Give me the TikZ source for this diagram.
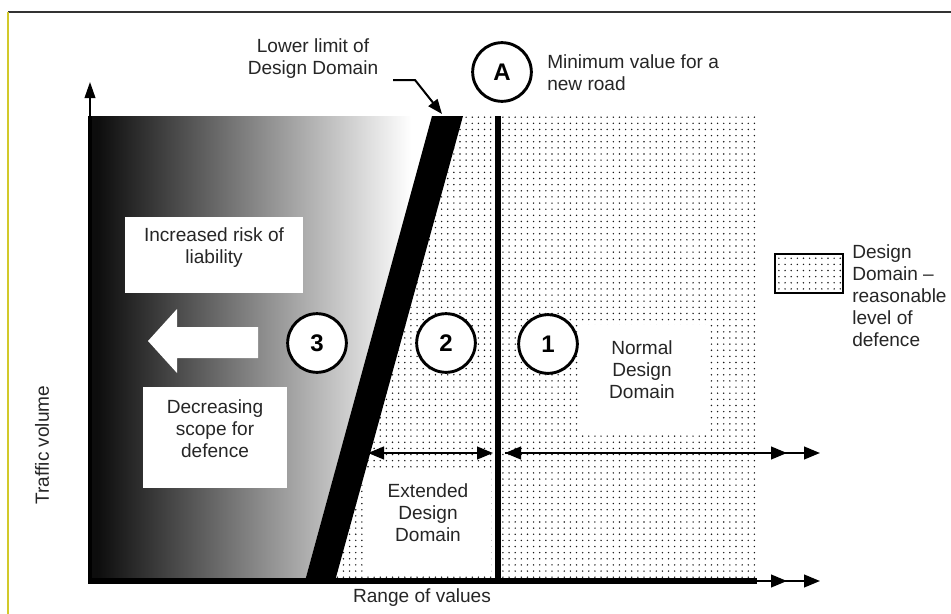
\documentclass[tikz,border=0pt]{standalone}
\usepackage{fontspec}
\setmainfont{Liberation Sans}
\usetikzlibrary{arrows.meta,patterns.meta}
\pgfdeclarehorizontalshading{darkfade}{100bp}{color(0bp)=(black!95); color(26bp)=(black!95); color(72bp)=(white); color(100bp)=(white)}
\begin{document}
\begin{tikzpicture}[x=0.75pt,y=-0.75pt,
  lbl/.style={font=\fontsize{14.3}{16.5}\selectfont, inner sep=0pt, text=black!85},
  numcirc/.style={draw, circle, line width=2.2pt, minimum size=44pt, inner sep=0pt, fill=white,
    font=\fontsize{18}{20}\selectfont\bfseries},
  tip/.tip={Triangle[length=12pt,width=9.5pt]},
  tri/.style={-tip},
  dotfill/.style={pattern={Dots[distance=4.6pt,radius=0.6pt]}, pattern color=black!90},
  whitebox/.style={fill=white}
]
\useasboundingbox (0,0) rectangle (951,614);
\fill[white] (0,0) rectangle (951,614);
% page frame
\draw[black!80, line width=0.8pt] (8,12) -- (951,12);
\draw[yellow!80!black, line width=1.2pt] (8,12) -- (8,614);
% key points
\coordinate (TL) at (90,116);
\coordinate (BL) at (90,581);
\coordinate (BandTL) at (432,116);
\coordinate (BandTR) at (463,116);
\coordinate (BandBR) at (335,581);
\coordinate (BandBL) at (305,581);
\coordinate (DTR) at (755,116);
\coordinate (DBR) at (755,581);
% gradient zone
\shade[shading=darkfade] (TL) -- (BandTL) -- (BandBL) -- (BL) -- cycle;
% design domain (dotted)
\fill[dotfill] (BandTR) -- (DTR) -- (DBR) -- (BandBR) -- cycle;
% lower limit band
\fill[black] (BandTL) -- (BandTR) -- (BandBR) -- (BandBL) -- cycle;
% line A
\draw[line width=4.5pt] (498,116) -- (498,581);
% y axis
\coordinate (ytop) at (90,82);
\draw[line width=3pt] (90,583) -- (TL);
\draw[line width=1.3pt, -{Triangle[length=12pt,width=8pt]}] (TL) -- (ytop);
% x axis
\coordinate (xs) at (757,581);
\coordinate (xa) at (787,581);
\coordinate (xb) at (820,581);
\draw[line width=4pt] (88,581) -- (xs);
\draw[line width=1.6pt, tri] (xs) -- (xb);
\draw[line width=1.6pt, tri] (xs) -- (xa);
% range arrows
\coordinate (e1) at (368,453);
\coordinate (e2) at (493,453);
\coordinate (n1) at (505,453);
\coordinate (n2) at (787,453);
\coordinate (n3) at (820,453);
\draw[line width=1.6pt, tip-tip] (e1) -- (e2);
\draw[line width=1.6pt, tip-tip] (n1) -- (n3);
\draw[line width=1.6pt, tri] (n1) -- (n2);
% white boxes
\fill[whitebox] (125,217) rectangle (303,293);
\fill[whitebox] (143,387) rectangle (287,488);
\fill[whitebox] (367,471) rectangle (491,576);
\fill[whitebox] (578,325) rectangle (707,433);
\node[lbl, align=center] (risk) at (214,248) {Increased risk of\\liability};
\node[lbl, align=center] (scope) at (215,428.5) {Decreasing\\scope for\\defence};
\node[lbl, align=center] (ext) at (428,512.5) {Extended\\Design\\Domain};
\node[lbl, align=center] (norm) at (642,370) {Normal\\Design\\Domain};
% white arrow
\fill[white] (148,341) -- (177,309) -- (177,327) -- (258,327) -- (258,358) -- (177,358) -- (177,373) -- cycle;
% circles
\node[numcirc] (c3) at (317,343) {3};
\node[numcirc] (c2) at (446,343) {2};
\node[numcirc] (c1) at (548,344) {1};
\node[numcirc] (cA) at (502,72) {A};
% top labels
\node[lbl, anchor=west, align=left] (minval) at (547,72.5) {Minimum value for a\\new road};
\node[lbl, align=center] (lower) at (313,58.5) {Lower limit of\\Design Domain};
\coordinate (lw1) at (393,80);
\coordinate (lw2) at (415,80);
\coordinate (lw3) at (442,114);
\draw[line width=1.5pt, -{Triangle[length=11pt,width=8.5pt]}] (lw1) -- (lw2) -- (lw3);
% legend
\fill[white] (775,254) rectangle (843,293);
\draw[line width=1.2pt, dotfill] (775,254) rectangle (843,293);
\node[lbl, anchor=west, align=left] (legtxt) at (852,295.5) {Design\\Domain –\\reasonable\\level of\\defence};
% axis labels
\node[lbl] (xlab) at (422,598) {Range of values};
\node[lbl, rotate=90] (ylab) at (42,445) {Traffic volume};
\end{tikzpicture}
\end{document}
